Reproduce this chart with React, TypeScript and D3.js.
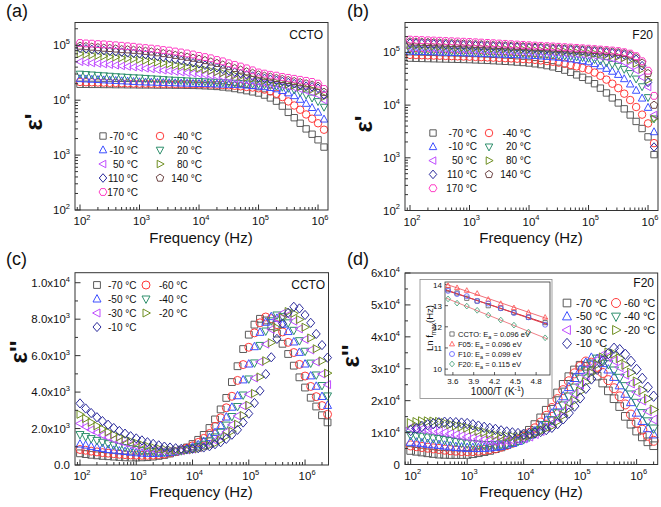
import React from "react";
import * as d3 from "d3";

const FONT = "'Liberation Sans', Arial, Helvetica, sans-serif";
const AXIS = "#333";

// ---------------- data ----------------
const freqHz = [
  1.0e2, 1.26e2, 1.58e2, 2.0e2, 2.51e2, 3.16e2, 3.98e2, 5.01e2, 6.31e2, 7.94e2,
  1.0e3, 1.26e3, 1.58e3, 2.0e3, 2.51e3, 3.16e3, 3.98e3, 5.01e3, 6.31e3, 7.94e3,
  1.0e4, 1.26e4, 1.58e4, 2.0e4, 2.51e4, 3.16e4, 3.98e4, 5.01e4, 6.31e4, 7.94e4,
  1.0e5, 1.26e5, 1.58e5, 2.0e5, 2.51e5, 3.16e5, 3.98e5, 5.01e5, 6.31e5, 7.94e5,
  1.0e6, 1.26e6, 1.58e6, 2.0e6, 2.51e6,
];

// (a) CCTO  eps' (x1e3)
const a_m70 = [19.5,19.5,19.4,19.4,19.3,19.3,19.2,19.2,19.1,19.1,19,19,19,18.9,18.9,18.9,18.8,18.8,18.7,18.6,18.5,18.3,18.1,17.8,17.4,16.9,16.3,15.6,14.9,14.2,13.5,12.4,11,9.6,7.8,6,4.8,3.8,3,2.4,1.9,1.4];
const a_m40 = [21.5,21.3,21.2,21,20.9,20.7,20.6,20.4,20.3,20.1,20,20,19.9,19.9,19.8,19.8,19.7,19.7,19.6,19.6,19.5,19.4,19.3,19.1,18.9,18.6,18.3,17.9,17.4,17,16.5,15.6,14.5,13.1,11.4,9.5,8,6.7,5.5,4.6,3.8,2.9];
const a_m10 = [24.5,24.2,23.9,23.6,23.3,23,22.7,22.4,22.1,21.8,21.5,21.3,21.2,21,20.9,20.7,20.6,20.4,20.3,20.1,20,19.9,19.8,19.6,19.5,19.3,19.2,19,18.7,18.4,18,17.5,16.9,16,14.9,13.5,12,10.3,8.7,7.3,6,4.5];
const a_20 = [30,29.5,29,28.5,28,27.5,27,26.6,26.2,25.8,25.5,25.1,24.7,24.3,23.9,23.5,23.2,22.9,22.6,22.3,22,21.8,21.5,21.3,21,20.8,20.5,20.3,20,19.8,19.5,19.1,18.6,18,17.3,16.5,15.4,14,12.5,11,9.5,7.5];
const a_50 = [50,48.8,47.6,46.5,45.4,44.3,43.2,42.1,41,40,39,38,37,36,35,34.1,33.2,32.4,31.6,30.8,30,29,28.1,27.2,26.3,25.5,24.7,23.9,23,22.2,21.5,20.8,20.1,19.4,18.7,18,17,15.9,14.8,13.7,12.5,10];
const a_80 = [70,68.3,66.7,65.1,63.5,62,60.5,59,57.6,56.3,55,53,51.1,49.2,47.4,45.7,44,42.4,40.9,39.4,38,36.2,34.5,32.8,31.3,29.8,28.4,27,25.7,24.6,23.5,22.7,21.9,21.1,20.3,19.5,18.6,17.6,16.6,15.6,14.5,11.5];
const a_110 = [88,86,84,82,80,78,76.5,75,73,71.5,70,68,65.5,63,60.5,58,55.5,53,50.5,48,46,43.5,41,39,36.5,34.5,32.5,30.5,29,27.5,26,25,24,23,22,21,20,19,18,17.5,16.5,12.5];
const a_140 = [97,95,93,91,89,88,86,84,83,81.5,80,78,76,73.5,71,69,66,63.5,61,58.5,56,53,50,47,44,41,38,35.5,33,31,29,27.5,26.5,25,24,23,22,21,20,19,18,14];
const a_170 = [110,108,107,105,104,102,100,98,96,94,91,89,87,85,82,80,77,74,71,68,64,61,58,54,51,47,44,41,38,35,32,30.5,29,28,26.5,25.5,24.5,23.5,22.5,21.5,20,16];

// (b) F20 eps' (x1e3)
const b_m70 = [78,77.5,77,76.5,76,75.5,75,74.5,74,73.5,73,72.3,71.5,70.7,69.8,68.9,67.9,66.9,65.6,64.4,63,61,58.8,56.2,53.3,50,46.2,42,37.5,33.7,30,25.5,21,17,13.7,11,8.5,6.5,4.9,3.6,2.5,1.15];
const b_m40 = [90,89.3,88.6,87.9,87.2,86.5,85.8,85.1,84.4,83.7,83,82.2,81.4,80.5,79.7,78.8,77.9,77,76,75,74,72.4,70.6,68.7,66.5,64,61,57.8,54.3,50.7,47,41.5,36,30.5,25.5,21,16.5,12.5,9.2,6.6,4.5,1.9];
const b_m10 = [105,104.2,103.4,102.6,101.8,101,100.2,99.4,98.6,97.8,97,96.1,95.2,94.3,93.4,92.5,91.6,90.7,89.8,88.9,88,86.6,85.1,83.5,81.8,80,77.6,75,72.2,69.2,66,61,55.3,49.5,43.6,38,31.5,25,19,13.5,9,3.1];
const b_20 = [112,111.2,110.4,109.6,108.8,108,107.2,106.4,105.6,104.8,104,103.1,102.2,101.3,100.4,99.5,98.6,97.7,96.8,95.9,95,93.7,92.3,90.9,89.5,88,86.3,84.5,82.5,80.3,78,74,69.5,64.5,60,55,48,40,31.5,22.5,14,5.5];
const b_50 = [122,121.1,120.2,119.3,118.4,117.5,116.6,115.7,114.8,113.9,113,112.1,111.2,110.3,109.4,108.5,107.6,106.7,105.8,104.9,104,102.8,101.6,100.4,99.2,98,96.5,95,93.5,91.8,90,87,84,80.5,76.5,72,65,56,46,34,22,6.5];
const b_80 = [135,133.9,132.8,131.7,130.6,129.5,128.4,127.3,126.2,125.1,124,122.9,121.8,120.7,119.6,118.5,117.4,116.3,115.2,114.1,113,111.6,110.2,108.8,107.4,106,104.4,102.8,101.2,99.6,98,95.5,93,90.5,87.5,84,79,72,62,48,30,5.5];
const b_110 = [150,148.6,147.2,145.8,144.4,143,141.6,140.2,138.8,137.4,136,134.6,133.2,131.8,130.4,129,127.6,126.2,124.8,123.4,122,120.4,118.8,117.2,115.6,114,112.4,110.8,109.2,107.6,106,104,102,99.5,97,94,90,84,74,56,27,1.6];
const b_140 = [160,158.5,157,155.5,154,152.5,151,149.5,148,146.5,145,143.3,141.6,139.9,138.2,136.5,134.8,133.1,131.4,129.7,128,126.4,124.8,123.2,121.6,120,118.4,116.8,115.2,113.6,112,110,108,105.5,103,100,96,90,80,63,40,10];
const b_170 = [175,173.3,171.6,169.9,168.2,166.5,164.8,163.1,161.4,159.7,158,155.9,153.8,151.7,149.6,147.5,145.4,143.3,141.2,139.1,137,135.2,133.4,131.6,129.8,128,126,124,122,120,118,115.8,113.5,111.2,108.8,106,101,95,85,68,45,15];

// (c) CCTO eps''
const c_m70 = [640,600,560,530,500,480,460,440,420,410,410,420,430,460,500,550,630,720,840,960,1150,1380,1650,2030,2500,3050,3680,4550,5420,6360,7150,7700,8020,7930,7610,7210,6650,6090,5450,4810,4250,3690,3210,2730,2340];
const c_m60 = [850,810,760,720,680,650,620,590,570,550,540,530,530,540,570,600,660,730,810,930,1050,1240,1460,1730,2120,2590,3140,3770,4640,5510,6460,7250,7800,8120,8030,7700,7300,6730,6170,5520,4880,4310,3750,3260,2780];
const c_m50 = [1150,1090,1020,960,910,850,810,770,740,700,670,650,640,630,640,660,680,730,800,880,990,1110,1290,1510,1780,2160,2630,3170,3800,4670,5540,6490,7280,7830,8140,8050,7720,7320,6750,6180,5540,4890,4320,3760,3270];
const c_m40 = [1670,1560,1450,1350,1250,1170,1090,1020,960,900,850,800,760,740,720,710,720,740,780,840,910,1020,1140,1320,1540,1800,2190,2660,3210,3840,4720,5600,6560,7350,7910,8230,8140,7800,7390,6820,6240,5590,4940,4360,3790];
const c_m30 = [2280,2100,1930,1780,1640,1520,1400,1290,1200,1110,1040,970,900,850,820,790,770,770,780,820,870,940,1050,1160,1340,1560,1820,2210,2690,3240,3880,4770,5660,6630,7440,8000,8320,8230,7890,7470,6890,6310,5650,4990,4410];
const c_m20 = [2780,2550,2340,2150,1980,1820,1670,1540,1410,1310,1210,1120,1040,970,910,870,830,810,810,820,850,900,970,1070,1180,1360,1580,1850,2240,2720,3280,3930,4830,5720,6710,7530,8090,8420,8320,7980,7560,6970,6380,5710,5040];
const c_m10 = [3380,3100,2850,2620,2410,2210,2030,1870,1720,1580,1460,1350,1250,1160,1080,1010,960,920,890,880,890,920,960,1030,1140,1250,1430,1660,1930,2330,2820,3400,4070,4990,5910,6920,7760,8350,8680,8590,8230,7800,7190,6580,5890];

// (d) F20 eps'' (x1e3)
const d_m70 = [4.4,4.14,3.9,3.66,3.45,3.24,3.16,3.12,3.1,3.11,3.13,3.37,3.68,4.04,4.41,4.96,5.51,6.21,7.07,8.08,9.24,10.72,12.51,14.61,17.0,19.71,22.42,25.12,27.52,29.62,31.1,30.78,29.54,27.69,25.53,23.07,20.61,18.15,15.08,12.62,10.47,8.64,7.11,5.89];
const d_m60 = [5.98,5.74,5.49,5.27,5.05,4.87,4.66,4.49,4.35,4.23,4.16,4.2,4.33,4.53,4.79,5.05,5.58,6.11,6.8,7.64,8.65,9.83,11.32,13.13,15.26,17.7,20.49,23.29,26.08,28.56,30.73,32.26,31.91,30.61,28.68,26.43,23.89,21.35,18.81,15.64,13.1,10.9,9.0,7.43];
const d_m50 = [7.06,6.85,6.65,6.44,6.26,6.09,5.87,5.64,5.45,5.3,5.17,5.14,5.11,5.17,5.3,5.5,5.77,6.24,6.71,7.34,8.14,9.18,10.38,11.9,13.75,15.93,18.47,21.33,24.2,27.06,29.6,31.84,33.42,33.06,31.72,29.73,27.41,24.77,22.13,19.49,16.2,13.6,11.33,9.38];
const d_m40 = [9.23,8.98,8.74,8.49,8.24,8.03,7.7,7.39,7.09,6.83,6.59,6.43,6.3,6.17,6.14,6.18,6.38,6.58,6.98,7.38,7.95,8.78,9.77,10.93,12.42,13.93,16.08,18.55,21.35,24.14,26.94,29.45,31.65,33.2,32.81,31.47,29.5,27.2,24.59,21.98,19.36,16.14,13.57,11.32];
const d_m30 = [11.5,11.28,11.05,10.83,10.6,10.37,10.0,9.63,9.29,8.95,8.65,8.32,8.02,7.76,7.5,7.34,7.37,7.46,7.56,7.86,8.16,8.77,9.55,10.5,11.62,12.81,14.66,16.84,19.35,22.19,25.04,27.94,30.51,32.75,34.33,33.92,32.53,30.48,28.1,25.39,22.68,20.03,16.71,14.06];
const d_m20 = [12.98,13.31,13.55,13.53,13.47,13.35,12.99,12.61,12.23,11.88,11.54,11.03,10.55,10.11,9.66,9.25,9.0,8.82,8.76,8.65,8.8,9.15,9.68,10.43,11.3,12.03,13.52,15.35,17.51,20.02,22.86,25.78,28.71,31.29,33.54,35.11,34.71,33.3,31.21,28.78,26.02,23.31,20.61,17.23];
const d_m10 = [10.64,11.28,11.91,12.45,12.78,13.07,13.25,13.19,13.11,12.98,12.83,12.44,12.03,11.65,11.31,11.01,10.55,10.2,9.92,9.71,9.5,9.7,9.9,10.33,10.93,11.65,12.8,14.3,16.1,18.3,20.85,23.85,26.8,29.8,32.45,34.75,36.42,35.99,34.51,32.33,29.8,27.0,24.2,21.4];

// inset: Ln fmax vs 1000/T
const invT = [3.53, 3.66, 3.8, 3.95, 4.11, 4.29, 4.48, 4.69, 4.93];
const lnCCTO = [13.75, 13.6, 13.35, 13.22, 13.0, 12.88, 12.68, 12.45, 12.2];
const lnF05 = [13.95, 13.85, 13.72, 13.58, 13.3, 13.1, 12.9, 12.68, 12.45];
const lnF10 = [13.7, 13.55, 13.45, 13.22, 13.1, 12.88, 12.65, 12.45, 12.1];
const lnF20 = [13.32, 13.12, 12.98, 12.78, 12.55, 12.32, 12.08, 11.75, 11.48];
const insetLabels = ["CCTO: E", "F05: E", "F10: E", "F20: E"];
const insetEa = [" = 0.096 eV", " = 0.096 eV", " = 0.099 eV", " = 0.115 eV"];
const insetXTicks = [3.6, 3.9, 4.2, 4.5, 4.8];
const insetYTicks = [10, 11, 12, 13, 14];

const tempsHigh = ["-70 °C", "-40 °C", "-10 °C", "20 °C", "50 °C", "80 °C", "110 °C", "140 °C", "170 °C"];
const tempsLow = ["-70 °C", "-60 °C", "-50 °C", "-40 °C", "-30 °C", "-20 °C", "-10 °C"];

// ---------------- styles ----------------
type Shape = "square" | "circle" | "triUp" | "triDown" | "triLeft" | "triRight" | "diamond" | "pentagon" | "hexagon";
const C = {
  gray: "#5a5a5a", red: "#ff3b3b", blue: "#3d4fff", teal: "#2e8f6c", violet: "#c04dff",
  olive: "#6f8f22", navy: "#2b2b9c", brown: "#6e4545", pink: "#ff3fc6",
};
const highStyle: { color: string; shape: Shape }[] = [
  { color: C.gray, shape: "square" }, { color: C.red, shape: "circle" }, { color: C.blue, shape: "triUp" },
  { color: C.teal, shape: "triDown" }, { color: C.violet, shape: "triLeft" }, { color: C.olive, shape: "triRight" },
  { color: C.navy, shape: "diamond" }, { color: C.brown, shape: "pentagon" }, { color: C.pink, shape: "hexagon" },
];
const lowStyle: { color: string; shape: Shape }[] = [
  { color: C.gray, shape: "square" }, { color: C.red, shape: "circle" }, { color: C.blue, shape: "triUp" },
  { color: C.teal, shape: "triDown" }, { color: C.violet, shape: "triLeft" }, { color: C.olive, shape: "triRight" },
  { color: C.navy, shape: "diamond" },
];

function poly(n: number, r: number, start: number) {
  const pts: string[] = [];
  for (let i = 0; i < n; i++) {
    const a = ((start + (360 / n) * i) * Math.PI) / 180;
    pts.push(`${(r * Math.cos(a)).toFixed(2)},${(r * Math.sin(a)).toFixed(2)}`);
  }
  return "M" + pts.join("L") + "Z";
}
function shapePath(shape: Shape, s: number): string {
  const h = s / 2;
  switch (shape) {
    case "square": { const a = h * 0.85; return `M${-a},${-a}H${a}V${a}H${-a}Z`; }
    case "circle": return `M${h},0A${h},${h} 0 1 1 ${-h},0A${h},${h} 0 1 1 ${h},0Z`;
    case "triUp": return `M0,${-h * 1.1}L${h},${h * 0.75}L${-h},${h * 0.75}Z`;
    case "triDown": return `M0,${h * 1.1}L${h},${-h * 0.75}L${-h},${-h * 0.75}Z`;
    case "triLeft": return `M${-h * 1.1},0L${h * 0.75},${-h}L${h * 0.75},${h}Z`;
    case "triRight": return `M${h * 1.1},0L${-h * 0.75},${-h}L${-h * 0.75},${h}Z`;
    case "diamond": return `M0,${-h * 1.15}L${h},0L0,${h * 1.15}L${-h},0Z`;
    case "pentagon": return poly(5, h * 1.05, -90);
    case "hexagon": return poly(6, h * 1.05, 0);
  }
}

type Scale = (v: number) => number;

function Marks({ list, freqs, x, y, size, unit }: { list: { values: number[]; color: string; shape: Shape }[]; freqs: number[]; x: Scale; y: Scale; size: number; unit: number }) {
  return (
    <g fill="none" strokeWidth={1}>
      {list.map((s, si) => {
        const p = shapePath(s.shape, size);
        return (
          <g key={si} stroke={s.color}>
            {s.values.map((v, i) => (
              <path key={i} d={p} transform={`translate(${x(freqs[i]).toFixed(2)},${y(v * unit).toFixed(2)})`} />
            ))}
          </g>
        );
      })}
    </g>
  );
}

function logTicks(d0: number, d1: number) {
  const majors: number[] = [];
  const minors: number[] = [];
  for (let k = Math.floor(Math.log10(d0)); k <= Math.ceil(Math.log10(d1)); k++) {
    for (let m = 1; m < 10; m++) {
      const v = m * Math.pow(10, k);
      if (v < d0 * 0.999 || v > d1 * 1.001) continue;
      (m === 1 ? majors : minors).push(v);
    }
  }
  return { majors, minors };
}

function Pow10({ x, y, e, anchor, fs }: { x: number; y: number; e: number; anchor: "middle" | "end"; fs: number }) {
  return (
    <text x={x} y={y} textAnchor={anchor} fontSize={fs} fill="#111">
      10<tspan dy={-fs * 0.45} fontSize={fs * 0.65}>{e}</tspan>
    </text>
  );
}

function LogX({ x, yb }: { x: d3.ScaleLogarithmic<number, number>; yb: number }) {
  const [d0, d1] = x.domain();
  const { majors, minors } = logTicks(d0, d1);
  return (
    <g>
      {minors.map((v, i) => <line key={"m" + i} x1={x(v)} x2={x(v)} y1={yb} y2={yb - 3} stroke={AXIS} />)}
      {majors.map((v, i) => (
        <g key={"M" + i}>
          <line x1={x(v)} x2={x(v)} y1={yb} y2={yb - 5.5} stroke={AXIS} />
          <Pow10 x={x(v) + 2} y={yb + 15} e={Math.round(Math.log10(v))} anchor="middle" fs={11.5} />
        </g>
      ))}
    </g>
  );
}

function LogY({ y, xl }: { y: d3.ScaleLogarithmic<number, number>; xl: number }) {
  const [d0, d1] = y.domain();
  const { majors, minors } = logTicks(d0, d1);
  return (
    <g>
      {minors.map((v, i) => <line key={"m" + i} x1={xl} x2={xl + 3} y1={y(v)} y2={y(v)} stroke={AXIS} />)}
      {majors.map((v, i) => (
        <g key={"M" + i}>
          <line x1={xl} x2={xl + 5.5} y1={y(v)} y2={y(v)} stroke={AXIS} />
          <Pow10 x={xl - 5} y={y(v) + 4} e={Math.round(Math.log10(v))} anchor="end" fs={11.5} />
        </g>
      ))}
    </g>
  );
}

function LinY({ y, xl, majors, minors, fmt }: { y: d3.ScaleLinear<number, number>; xl: number; majors: number[]; minors: number[]; fmt: (v: number) => { m: string; e?: number } }) {
  return (
    <g>
      {minors.map((v, i) => <line key={"m" + i} x1={xl} x2={xl + 3} y1={y(v)} y2={y(v)} stroke={AXIS} />)}
      {majors.map((v, i) => {
        const f = fmt(v);
        return (
          <g key={"M" + i}>
            <line x1={xl} x2={xl + 5.5} y1={y(v)} y2={y(v)} stroke={AXIS} />
            <text x={xl - 5} y={y(v) + 4} textAnchor="end" fontSize={11.5} fill="#111">
              {f.m}
              {f.e !== undefined && <tspan dy={-5} fontSize={7.5}>{f.e}</tspan>}
            </text>
          </g>
        );
      })}
    </g>
  );
}

function Legend({ items, fs, size, align }: { items: { x: number; y: number; tx: number; label: string; color: string; shape: Shape }[]; fs: number; size: number; align: "start" | "end" }) {
  return (
    <g fontSize={fs} fill="#111">
      {items.map((it, i) => (
        <g key={i}>
          <path d={shapePath(it.shape, size)} transform={`translate(${it.x},${it.y})`} fill="none" stroke={it.color} strokeWidth={1} />
          <text x={it.tx} y={it.y + fs * 0.36} textAnchor={align}>{it.label}</text>
        </g>
      ))}
    </g>
  );
}

function EpsLabel({ x, y, text }: { x: number; y: number; text: string }) {
  return (
    <text transform={`translate(${x},${y}) rotate(-90)`} textAnchor="middle" fontSize={24} fontWeight="bold" fill="#111">
      {text}
    </text>
  );
}

export default function App() {
  const xA = d3.scaleLog().domain([82.4, 1.47e6]).range([75, 328]);
  const yA = d3.scaleLog().domain([100, 2.6e5]).range([210, 22.5]);
  const xB = d3.scaleLog().domain([82.4, 1.47e6]).range([405, 658]);
  const yB = d3.scaleLog().domain([100, 3.7e5]).range([210.5, 22.5]);
  const xC = d3.scaleLog().domain([81.5, 2.61e6]).range([75, 328.5]);
  const yC = d3.scaleLinear().domain([0, 10550]).range([465, 272.7]);
  const xD = d3.scaleLog().domain([79.3, 2.36e6]).range([405, 657.7]);
  const yD = d3.scaleLinear().domain([0, 60000]).range([464.5, 273]);

  const aVals = [a_m70, a_m40, a_m10, a_20, a_50, a_80, a_110, a_140, a_170];
  const bVals = [b_m70, b_m40, b_m10, b_20, b_50, b_80, b_110, b_140, b_170];
  const cVals = [c_m70, c_m60, c_m50, c_m40, c_m30, c_m20, c_m10];
  const dVals = [d_m70, d_m60, d_m50, d_m40, d_m30, d_m20, d_m10];
  const aList = aVals.map((v, i) => ({ values: v, ...highStyle[i] }));
  const bList = bVals.map((v, i) => ({ values: v, ...highStyle[i] }));
  const cList = cVals.map((v, i) => ({ values: v, ...lowStyle[i] }));
  const dList = dVals.map((v, i) => ({ values: v, ...lowStyle[i] }));

  const highLegend = (x1: number, t1: number, x2: number, t2: number, y0: number, dy: number) =>
    tempsHigh.map((lab, i) => {
      const col = i % 2;
      const row = Math.floor(i / 2);
      return { x: col ? x2 : x1, tx: col ? t2 : t1, y: y0 + row * dy, label: lab, ...highStyle[i] };
    });
  const lowLegend = (x1: number, t1: number, x2: number, t2: number, y0: number, dy: number) =>
    tempsLow.map((lab, i) => {
      const col = i % 2;
      const row = Math.floor(i / 2);
      return { x: col ? x2 : x1, tx: col ? t2 : t1, y: y0 + row * dy, label: lab, ...lowStyle[i] };
    });

  // inset
  const IL = 445, IR = 550, IT = 282, IB = 375;
  const xI = d3.scaleLinear().domain([3.486, 5.0]).range([IL, IR]);
  const yI = d3.scaleLinear().domain([9.72, 14.12]).range([IB, IT]);
  const insetSeries = [
    { v: lnCCTO, color: C.gray, shape: "square" as Shape, line: "#c8283a" },
    { v: lnF05, color: "#ff4a4a", shape: "triUp" as Shape, line: "#f0707a" },
    { v: lnF10, color: "#5a5aff", shape: "circle" as Shape, line: "#e0404e" },
    { v: lnF20, color: "#3a9a70", shape: "diamond" as Shape, line: "#f08088" },
  ];
  const fit = (ys: number[]) => {
    const mx = d3.mean(invT)!, my = d3.mean(ys)!;
    let num = 0, den = 0;
    invT.forEach((xv, i) => { num += (xv - mx) * (ys[i] - my); den += (xv - mx) ** 2; });
    const k = num / den;
    return (xv: number) => my + k * (xv - mx);
  };

  const freqLabel = (cx: number, y: number) => (
    <text x={cx} y={y} textAnchor="middle" fontSize={15} fill="#111">Frequency (Hz)</text>
  );

  return (
    <svg width={661} height={507} style={{ position: "absolute", left: 0, top: 0, background: "#fff" }} fontFamily={FONT}>
      <rect width={661} height={507} fill="#fff" />

      {/* ---------- (a) ---------- */}
      <text x={6} y={17} fontSize={18} fill="#111">(a)</text>
      <Marks list={aList} freqs={freqHz} x={xA} y={yA} size={7.5} unit={1000} />
      <rect x={75} y={22.5} width={253} height={187.5} fill="none" stroke={AXIS} />
      <LogX x={xA} yb={210} />
      <LogY y={yA} xl={75} />
      <text x={323} y={39} textAnchor="end" fontSize={12} fill="#111">CCTO</text>
      <Legend items={highLegend(103, 138, 160, 202, 136, 14)} fs={10} size={7.5} align="end" />
      <EpsLabel x={42} y={122} text="ε'" />
      {freqLabel(201, 243)}

      {/* ---------- (b) ---------- */}
      <text x={347} y={17} fontSize={18} fill="#111">(b)</text>
      <Marks list={bList} freqs={freqHz} x={xB} y={yB} size={7.5} unit={1000} />
      <rect x={405} y={22.5} width={253} height={188} fill="none" stroke={AXIS} />
      <LogX x={xB} yb={210.5} />
      <LogY y={yB} xl={405} />
      <text x={653} y={39} textAnchor="end" fontSize={12} fill="#111">F20</text>
      <Legend items={highLegend(433, 477, 489, 531, 133, 13.8)} fs={10} size={7.5} align="end" />
      <EpsLabel x={372} y={124} text="ε'" />
      {freqLabel(531, 243)}

      {/* ---------- (c) ---------- */}
      <text x={6} y={265} fontSize={18} fill="#111">(c)</text>
      <Marks list={cList} freqs={freqHz} x={xC} y={yC} size={8} unit={1} />
      <rect x={75} y={272.7} width={253.5} height={192.3} fill="none" stroke={AXIS} />
      <LogX x={xC} yb={465} />
      <LinY
        y={yC}
        xl={75}
        majors={[0, 2000, 4000, 6000, 8000, 10000]}
        minors={[1000, 3000, 5000, 7000, 9000]}
        fmt={(v) => (v === 0 ? { m: "0.0" } : { m: (v / Math.pow(10, Math.floor(Math.log10(v)))).toFixed(1) + "x10", e: Math.floor(Math.log10(v)) })}
      />
      <text x={325} y={289} textAnchor="end" fontSize={12} fill="#111">CCTO</text>
      <Legend items={lowLegend(97, 108, 146, 159, 285, 14)} fs={10} size={8} align="start" />
      <EpsLabel x={27} y={352} text="ε''" />
      {freqLabel(201, 497)}

      {/* ---------- (d) ---------- */}
      <text x={347} y={265} fontSize={18} fill="#111">(d)</text>
      <Marks list={dList} freqs={freqHz} x={xD} y={yD} size={9} unit={1000} />
      <rect x={405} y={273} width={252.7} height={191.5} fill="none" stroke={AXIS} />
      <LogX x={xD} yb={464.5} />
      <LinY
        y={yD}
        xl={405}
        majors={[0, 10000, 20000, 30000, 40000, 50000, 60000]}
        minors={[5000, 15000, 25000, 35000, 45000, 55000]}
        fmt={(v) => (v === 0 ? { m: "0" } : { m: v / 10000 + "x10", e: 4 })}
      />
      <text x={654} y={287} textAnchor="end" fontSize={12} fill="#111">F20</text>
      <Legend items={lowLegend(567, 576, 616, 624, 303, 13.5)} fs={11} size={9} align="start" />
      <EpsLabel x={359} y={356} text="ε''" />
      {freqLabel(531, 497)}

      {/* ---------- inset ---------- */}
      <rect x={420} y={279.5} width={132} height={119} fill="#fff" stroke="#888" strokeWidth={0.8} />
      <rect x={IL} y={IT} width={IR - IL} height={IB - IT} fill="none" stroke={AXIS} strokeWidth={0.8} />
      {insetYTicks.map((v) => (
        <g key={"iy" + v}>
          <line x1={IL} x2={IL + 3} y1={yI(v)} y2={yI(v)} stroke={AXIS} strokeWidth={0.8} />
          <text x={IL - 3} y={yI(v) + 3} textAnchor="end" fontSize={8} fill="#111">{v}</text>
        </g>
      ))}
      {insetXTicks.map((v) => (
        <g key={"ix" + v}>
          <line x1={xI(v)} x2={xI(v)} y1={IB} y2={IB - 3} stroke={AXIS} strokeWidth={0.8} />
          <text x={xI(v)} y={IB + 9} textAnchor="middle" fontSize={8} fill="#111">{v.toFixed(1)}</text>
        </g>
      ))}
      {insetSeries.map((s, i) => {
        const f = fit(s.v);
        return <line key={"fl" + i} x1={xI(3.5)} y1={yI(f(3.5))} x2={xI(4.97)} y2={yI(f(4.97))} stroke={s.line} strokeWidth={1} />;
      })}
      {insetSeries.map((s, i) => (
        <g key={"ip" + i} fill="none" stroke={s.color} strokeWidth={0.8}>
          {s.v.map((v, j) => (
            <path key={j} d={shapePath(s.shape, 5)} transform={`translate(${xI(invT[j]).toFixed(2)},${yI(v).toFixed(2)})`} />
          ))}
        </g>
      ))}
      {insetSeries.map((s, i) => (
        <g key={"il" + i}>
          <path d={shapePath(s.shape, 5)} transform={`translate(452,${334 + i * 10})`} fill="none" stroke={s.color} strokeWidth={0.8} />
          <text x={458} y={337 + i * 10} fontSize={7.5} fill="#111">
            {insetLabels[i]}
            <tspan dy={2} fontSize={5.5}>a</tspan>
            <tspan dy={-2}>{insetEa[i]}</tspan>
          </text>
        </g>
      ))}
      <text transform="translate(433,328) rotate(-90)" textAnchor="middle" fontSize={9.5} fill="#111">
        Ln f<tspan dy={2.5} fontSize={6.5}>max</tspan><tspan dy={-2.5}>(Hz)</tspan>
      </text>
      <text x={(IL + IR) / 2} y={395} textAnchor="middle" fontSize={10} fill="#111">
        1000/T (K<tspan dy={-4} fontSize={7}>-1</tspan><tspan dy={4}>)</tspan>
      </text>
    </svg>
  );
}
